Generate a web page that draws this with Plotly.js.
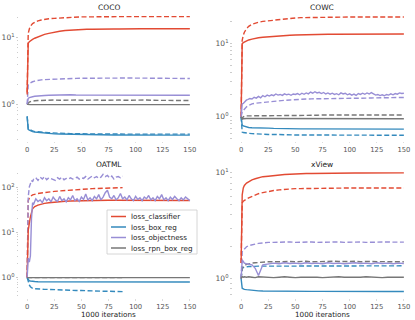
<!DOCTYPE html>
<html>
<head>
<meta charset="utf-8">
<script src="https://cdn.plot.ly/plotly-3.0.1.min.js"></script>
<style>
	html, body { margin: 0; padding: 0; background: #fff; }
	#chart { width: 415px; height: 320px; }
</style>
</head>
<body>
<div id="chart"></div>
<script>
	'use strict';

	// x grids (1000 iterations)
	const X = [0,1,2,3,5,7,10,13,16,20,25,30,35,40,45,50,55,60,65,70,75,80,85,90,95,100,105,110,115,120,125,130,135,140,145,150];
	const X_SHORT = [0,1,2,3,5,7,10,13,16,20,25,30,35,40,45,50,55,60,65,70,75,80,85,88];
	const XN = [0,1,2,3,4,5,6,8,10,12,14,16,18,20,22,24,26,28,30,32,34,36,38,40,42,44,46,48,50,52,54,56,58,60,62,64,66,68,70,72,74,76,78,80,82,84,86,88,90,92,94,96,98,100,102,104,106,108,110,112,114,116,118,120,122,124,126,128,130,132,134,136,138,140,142,144,146,148,150];
	const XN_SHORT = [0,1,2,3,4,5,6,8,10,12,14,16,18,20,22,24,26,28,30,32,34,36,38,40,42,44,46,48,50,52,54,56,58,60,62,64,66,68,70,72,74,76,78,80,82,84,86,88];

	const LOSSES = ['loss_classifier', 'loss_box_reg', 'loss_objectness', 'loss_rpn_box_reg'];
	const COLORS = ['#E24A33', '#348ABD', '#988ED5', '#777777'];

	// COCO
	const cocoCls = [1.4,8.2,8.7,9.0,9.4,9.8,10.3,10.8,11.2,11.6,12.1,12.5,12.8,13.0,13.2,13.3,13.4,13.4,13.5,13.5,13.5,13.5,13.5,13.6,13.6,13.6,13.6,13.6,13.6,13.6,13.6,13.6,13.6,13.6,13.6,13.6];
	const cocoClsVal = [1.5,11.6,13.5,14.8,16.3,17.1,17.9,18.4,18.8,19.2,19.5,19.8,20.0,20.2,20.3,20.5,20.5,20.6,20.6,20.6,20.6,20.7,20.7,20.7,20.7,20.7,20.7,20.7,20.7,20.7,20.7,20.7,20.7,20.7,20.7,20.7];
	const cocoBox = [0.66,0.42,0.41,0.40,0.39,0.385,0.38,0.375,0.37,0.365,0.36,0.358,0.356,0.354,0.352,0.35,0.35,0.349,0.348,0.348,0.347,0.347,0.347,0.346,0.346,0.346,0.346,0.346,0.345,0.345,0.345,0.345,0.345,0.345,0.345,0.345];
	const cocoBoxVal = [0.66,0.43,0.42,0.41,0.40,0.39,0.39,0.385,0.38,0.375,0.37,0.368,0.366,0.364,0.362,0.36,0.36,0.36,0.36,0.358,0.358,0.358,0.358,0.358,0.358,0.357,0.357,0.357,0.357,0.357,0.357,0.357,0.357,0.357,0.357,0.357];
	const cocoObj = [1.0,1.23,1.26,1.28,1.3,1.32,1.34,1.35,1.36,1.37,1.38,1.38,1.37,1.39,1.38,1.38,1.39,1.37,1.38,1.38,1.39,1.38,1.37,1.38,1.38,1.37,1.38,1.38,1.37,1.38,1.38,1.37,1.38,1.37,1.38,1.37];
	const cocoObjVal = [1.0,1.95,2.05,2.1,2.18,2.23,2.3,2.33,2.35,2.37,2.4,2.42,2.43,2.44,2.45,2.46,2.47,2.47,2.47,2.48,2.48,2.48,2.48,2.48,2.48,2.48,2.47,2.48,2.48,2.48,2.47,2.48,2.48,2.46,2.47,2.44];
	const cocoRpn = [1.0,0.99,0.99,0.99,0.99,0.99,0.99,0.99,0.99,0.99,0.99,0.99,0.99,0.99,0.99,0.99,0.99,0.99,0.99,0.99,0.99,0.99,0.99,0.99,0.99,0.99,0.99,0.99,0.99,0.99,0.99,0.99,0.99,0.99,0.99,0.99];
	const cocoRpnVal = [1.0,1.05,1.08,1.1,1.12,1.13,1.14,1.15,1.14,1.15,1.16,1.15,1.16,1.15,1.16,1.15,1.16,1.15,1.16,1.15,1.16,1.15,1.16,1.15,1.16,1.15,1.15,1.16,1.15,1.15,1.16,1.15,1.15,1.14,1.15,1.14];

	// COWC
	const cowcCls = [1.0,10.0,10.3,10.5,10.9,11.2,11.5,11.8,12.0,12.2,12.4,12.6,12.8,12.9,13.0,13.1,13.2,13.2,13.3,13.3,13.3,13.4,13.4,13.4,13.4,13.4,13.5,13.5,13.5,13.5,13.5,13.5,13.5,13.5,13.5,13.5];
	const cowcClsVal = [1.0,11.1,13.0,14.3,16.0,17.2,18.4,19.1,19.6,20.1,20.5,21.0,21.4,21.8,22.1,22.4,22.6,22.7,22.8,22.9,22.9,23.0,23.0,23.0,23.1,23.1,23.1,23.1,23.1,23.1,23.1,23.1,23.1,23.1,23.1,23.1];
	const cowcBox = [1.0,0.77,0.75,0.74,0.72,0.715,0.71,0.705,0.70,0.70,0.70,0.695,0.69,0.69,0.69,0.69,0.685,0.685,0.685,0.685,0.68,0.68,0.68,0.68,0.68,0.68,0.68,0.68,0.68,0.68,0.68,0.68,0.68,0.68,0.68,0.68];
	const cowcBoxVal = [1.0,0.62,0.61,0.605,0.60,0.595,0.59,0.585,0.58,0.58,0.575,0.575,0.57,0.57,0.57,0.565,0.565,0.565,0.565,0.56,0.56,0.56,0.56,0.56,0.56,0.56,0.56,0.56,0.56,0.56,0.56,0.56,0.56,0.56,0.56,0.56];
	const cowcObj = [1.0,1.5,1.52,1.6,1.65,1.7,1.72,
		1.78,1.75,1.85,1.8,1.9,1.82,1.95,1.88,1.98,1.92,
		2.0,1.95,2.05,1.98,2.02,1.96,2.06,2.0,2.04,1.97,
		2.05,2.02,2.08,2.0,2.1,2.03,2.12,2.06,2.18,2.1,
		2.2,2.12,2.16,2.08,2.15,2.05,2.12,2.04,2.1,2.02,
		2.07,2.0,2.12,2.05,2.1,2.0,2.06,1.98,2.04,1.96,
		2.08,2.02,2.1,2.03,2.12,2.05,2.14,2.06,1.98,2.02,
		1.95,2.0,1.94,2.02,1.98,2.06,2.0,2.08,2.04,2.12,
		2.08,2.1];
	const cowcObjVal = [1.0,1.17,1.22,1.27,1.37,1.43,1.5,1.53,1.55,1.57,1.58,1.62,1.65,1.68,1.7,1.73,1.74,1.75,1.76,1.76,1.77,1.77,1.78,1.78,1.78,1.78,1.79,1.8,1.8,1.81,1.81,1.82,1.82,1.83,1.83,1.84];
	const cowcRpn = [1.0,0.93,0.94,0.95,0.95,0.95,0.95,0.95,0.95,0.95,0.95,0.95,0.95,0.95,0.95,0.95,0.95,0.95,0.95,0.95,0.95,0.95,0.95,0.95,0.95,0.94,0.94,0.94,0.94,0.94,0.94,0.94,0.94,0.94,0.94,0.94];
	const cowcRpnVal = [1.0,0.95,1.0,1.02,1.03,1.03,1.04,1.04,1.05,1.05,1.05,1.05,1.05,1.05,1.05,1.05,1.05,1.05,1.05,1.05,1.06,1.06,1.06,1.06,1.06,1.06,1.06,1.06,1.06,1.06,1.06,1.06,1.06,1.06,1.06,1.06];

	// OATML (dashed runs stop near 88k iterations)
	const oatCls = [1.0,11,15.7,22,33,37,40,42,43.5,45,46.5,47.5,48.5,49,49.5,50,50.5,50.5,51,51,51,51,51,51,51,51,51,51,51,51,51,51,50.5,50.5,50.5,50.5];
	const oatClsVal = [1.0,50,57,62,67,70,72,74,76,78,80,82,84,86,88,90,91,92,93,94,95,96,96,97];
	const oatBox = [1.0,0.89,0.85,0.84,0.82,0.82,0.81,0.81,0.8,0.8,0.8,0.8,0.8,0.8,0.8,0.8,0.8,0.8,0.8,0.8,0.8,0.8,0.8,0.8,0.8,0.8,0.8,0.8,0.8,0.8,0.8,0.8,0.8,0.8,0.8,0.8];
	const oatBoxVal = [1.0,0.8,0.69,0.63,0.58,0.57,0.56,0.56,0.55,0.55,0.54,0.54,0.53,0.53,0.52,0.52,0.51,0.51,0.5,0.5,0.5,0.49,0.49,0.49];
	const oatObj = [1.0,2.7,2.2,3.0,20,45,42,
		55,48,52,45,58,50,55,47,60,52,
		48,62,50,55,47,58,52,65,50,55,
		48,60,53,70,52,58,50,62,55,68,
		52,60,75,85,60,55,65,52,58,72,
		55,60,52,65,55,50,62,53,58,50,
		60,55,65,52,58,50,62,55,68,52,
		58,50,60,53,62,55,50,58,52,60,
		55,50];
	const oatObjVal = [1.0,60,100,120,140,130,150,
		160,140,165,150,170,145,160,155,150,140,
		160,150,165,145,155,150,160,150,155,165,
		150,160,155,170,150,165,175,160,170,155,
		165,190,170,180,160,175,150,165,170,160,
		175];
	const oatRpn = [1,1,1,1,1,1,1,1,1,1,1,1,1,1,1,1,1,1,1,1,1,1,1,1,1,1,1,1,1,1,1,1,1,1,1,1];
	const oatRpnVal = [1,1,1,1,1,1,1,1,1,1,1,1,1,1,1,1,1,1,1,1,1,1,1,1];

	// xView
	const xvCls = [1.4,6.2,7.2,7.6,8.0,8.3,8.6,8.8,9.0,9.2,9.3,9.45,9.55,9.65,9.7,9.8,9.82,9.85,9.87,9.9,9.9,9.92,9.93,9.94,9.95,9.96,9.97,9.98,9.98,9.99,10.0,10.0,10.0,10.0,10.0,10.0];
	const xvClsVal = [1.4,5.2,5.4,5.5,5.65,5.8,6.0,6.2,6.35,6.5,6.7,6.8,6.9,7.0,7.05,7.1,7.1,7.12,7.14,7.15,7.16,7.18,7.18,7.2,7.2,7.2,7.2,7.2,7.2,7.2,7.2,7.2,7.2,7.2,7.2,7.2];
	const xvBox = [1.0,0.81,0.8,0.79,0.785,0.78,0.775,0.77,0.765,0.762,0.76,0.76,0.758,0.758,0.757,0.757,0.756,0.756,0.756,0.756,0.755,0.755,0.755,0.755,0.755,0.755,0.755,0.755,0.755,0.755,0.755,0.755,0.755,0.755,0.755,0.755];
	const xvBoxVal = [1.0,1.25,1.27,1.28,1.29,1.3,1.3,1.31,1.31,1.31,1.31,1.32,1.31,1.32,1.32,1.31,1.32,1.32,1.31,1.32,1.32,1.31,1.32,1.32,1.31,1.32,1.32,1.31,1.32,1.32,1.31,1.32,1.32,1.31,1.32,1.32];
	const xvObj = [1.0,1.5,1.45,1.4,1.38,1.36,1.35,1.25,1.07,1.35,1.38,1.4,1.38,1.41,1.39,1.4,1.38,1.41,1.39,1.4,1.38,1.41,1.39,1.4,1.38,1.4,1.41,1.39,1.4,1.38,1.41,1.39,1.4,1.38,1.4,1.39];
	const xvObjVal = [1.0,1.79,1.85,1.9,2.0,2.05,2.1,2.12,2.15,2.18,2.2,2.2,2.21,2.2,2.22,2.2,2.21,2.2,2.22,2.2,2.21,2.2,2.2,2.22,2.2,2.21,2.2,2.22,2.2,2.21,2.2,2.2,2.22,2.21,2.2,2.21];
	const xvRpn = [1.0,1.04,1.03,1.04,1.03,1.04,1.03,1.02,1.04,1.03,1.03,1.02,1.03,1.04,1.03,1.02,1.03,1.03,1.04,1.03,1.02,1.03,1.03,1.04,1.03,1.03,1.02,1.03,1.04,1.03,1.03,1.02,1.03,1.03,1.04,1.03];
	const xvRpnVal = [1.0,1.25,1.3,1.33,1.36,1.38,1.4,1.41,1.42,1.43,1.44,1.44,1.45,1.44,1.45,1.44,1.45,1.46,1.44,1.45,1.44,1.45,1.46,1.45,1.44,1.45,1.46,1.44,1.45,1.45,1.46,1.44,1.45,1.46,1.45,1.44];

	// axis ticks
	const X_TICKS = [0, 25, 50, 75, 100, 125, 150];
	const Y_MAJOR = [0.1, 1, 10, 100];
	const Y_MAJOR_TEXT = ['10<sup>−1</sup>', '10<sup>0</sup>', '10<sup>1</sup>', '10<sup>2</sup>'];
	const Y_MINOR = [0.2,0.3,0.4,0.5,0.6,0.7,0.8,0.9,2,3,4,5,6,7,8,9,20,30,40,50,60,70,80,90,200,300];
	const X_LABEL = '1000 iterations';

	/**
	* Panels: solid and dashed runs, each series is [x, y] in LOSSES order
	*/
	const panels = [
		{ title: 'COCO', ax: '', xDom: [0.0458, 0.4771], yDom: [0.5594, 0.9656], yRange: [-0.55, 1.40],
			solid: [[X, cocoCls], [X, cocoBox], [X, cocoObj], [X, cocoRpn]],
			dashed: [[X, cocoClsVal], [X, cocoBoxVal], [X, cocoObjVal], [X, cocoRpnVal]] },
		{ title: 'COWC', ax: '2', xDom: [0.5614, 0.9928], yDom: [0.5594, 0.9656], yRange: [-0.33, 1.445],
			solid: [[X, cowcCls], [X, cowcBox], [XN, cowcObj], [X, cowcRpn]],
			dashed: [[X, cowcClsVal], [X, cowcBoxVal], [X, cowcObjVal], [X, cowcRpnVal]] },
		{ title: 'OATML', ax: '3', xDom: [0.0458, 0.4771], yDom: [0.06875, 0.475], yRange: [-0.45, 2.42], xTitle: true,
			solid: [[X, oatCls], [X, oatBox], [XN, oatObj], [X, oatRpn]],
			dashed: [[X_SHORT, oatClsVal], [X_SHORT, oatBoxVal], [XN_SHORT, oatObjVal], [X_SHORT, oatRpnVal]] },
		{ title: 'xView', ax: '4', xDom: [0.5614, 0.9928], yDom: [0.06875, 0.475], yRange: [-0.184, 1.046], xTitle: true,
			solid: [[X, xvCls], [X, xvBox], [X, xvObj], [X, xvRpn]],
			dashed: [[X, xvClsVal], [X, xvBoxVal], [X, xvObjVal], [X, xvRpnVal]] },
	];

	const FONT = 'DejaVu Sans, sans-serif';
	const W = 415, H = 320;
	const data = [];
	const layout = {
		width: W,
		height: H,
		margin: { l: 0, r: 0, t: 0, b: 0 },
		paper_bgcolor: '#fff',
		plot_bgcolor: '#fff',
		font: { family: FONT, size: 7.2, color: '#222' },
		showlegend: false,
		annotations: [],
		shapes: [],
	};

	panels.forEach(( p ) => {
		const xa = 'x' + p.ax;
		const ya = 'y' + p.ax;

		p.dashed.forEach(( [ xs, ys ], i ) => {
			data.push({
				x: xs, y: ys, xaxis: xa, yaxis: ya,
				type: 'scatter', mode: 'lines', name: LOSSES[i],
				line: { color: COLORS[i], width: 1.4, dash: '5px,2.5px' },
			});
		});
		p.solid.forEach(( [ xs, ys ], i ) => {
			data.push({
				x: xs, y: ys, xaxis: xa, yaxis: ya,
				type: 'scatter', mode: 'lines', name: LOSSES[i],
				line: { color: COLORS[i], width: 1.4 },
			});
		});

		layout['xaxis' + p.ax] = {
			domain: p.xDom, anchor: ya, range: [-7.5, 157.5],
			tickvals: X_TICKS, ticks: 'outside', ticklen: 1.5, tickcolor: '#ddd',
			tickfont: { size: 6.8, color: '#555' },
			showgrid: false, zeroline: false, showline: false,
		};
		layout['yaxis' + p.ax] = {
			type: 'log', domain: p.yDom, anchor: xa, range: p.yRange,
			tickmode: 'array', tickvals: Y_MAJOR, ticktext: Y_MAJOR_TEXT,
			ticks: 'outside', ticklen: 2, tickcolor: '#ccc',
			tickfont: { size: 7.5, color: '#555' },
			showgrid: false, zeroline: false, showline: false,
			minor: { ticks: 'outside', ticklen: 1.5, tickcolor: '#ccc', tickmode: 'array', tickvals: Y_MINOR },
		};

		// subplot title
		layout.annotations.push({
			text: p.title, xref: xa + ' domain', yref: ya + ' domain',
			x: 0.5, y: 1, xanchor: 'center', yanchor: 'bottom', yshift: -1.5,
			showarrow: false, borderpad: 0, font: { size: 7.5, color: '#222' },
		});

		// x axis label below the bottom row
		if( p.xTitle ){
			layout.annotations.push({
				text: X_LABEL, xref: xa + ' domain', yref: 'paper',
				x: 0.5, y: 1 - 314.5 / H, xanchor: 'center', yanchor: 'middle',
				showarrow: false, borderpad: 0, font: { size: 7.2, color: '#222' },
			});
		}
	});

	/**
	* Legend (compact box inside the OATML panel, like the original)
	*/
	const LEG = { x0: 107, x1: 197, y0: 210, y1: 254, lineX0: 111, lineX1: 126, textX: 130, rowY: [216.5, 227, 237.5, 248] };
	layout.shapes.push({
		type: 'rect', xref: 'paper', yref: 'paper', layer: 'above',
		x0: LEG.x0 / W, x1: LEG.x1 / W, y0: 1 - LEG.y1 / H, y1: 1 - LEG.y0 / H,
		fillcolor: 'rgba(255,255,255,0.85)', line: { color: '#ccc', width: 0.8 },
	});
	LOSSES.forEach(( name, i ) => {
		const y = 1 - LEG.rowY[i] / H;
		layout.shapes.push({
			type: 'line', xref: 'paper', yref: 'paper', layer: 'above',
			x0: LEG.lineX0 / W, x1: LEG.lineX1 / W, y0: y, y1: y,
			line: { color: COLORS[i], width: 1.5 },
		});
		layout.annotations.push({
			text: name, xref: 'paper', yref: 'paper',
			x: LEG.textX / W, y, xanchor: 'left', yanchor: 'middle',
			showarrow: false, borderpad: 0, font: { size: 7.2, color: '#222' },
		});
	});

	Plotly.newPlot('chart', data, layout, { displayModeBar: false, staticPlot: true });
</script>
</body>
</html>
